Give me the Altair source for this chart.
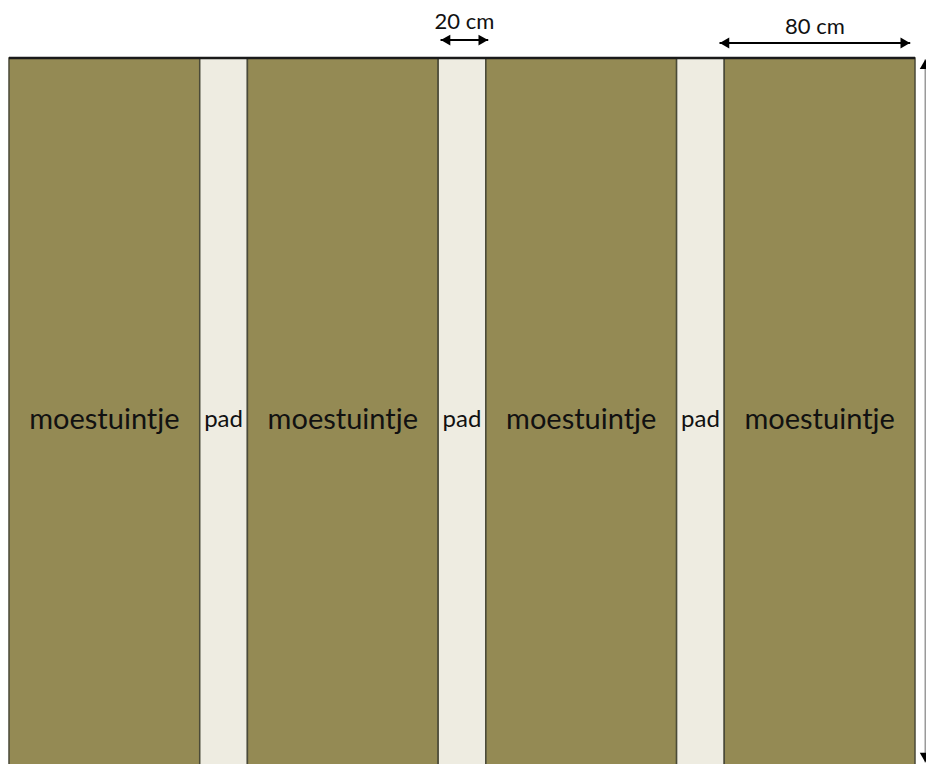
import altair as alt
import pandas as pd

# ---- data (cm) ----
segment_labels = ["moestuintje", "pad", "moestuintje", "pad", "moestuintje", "pad", "moestuintje"]
segment_kind = ["bed", "path", "bed", "path", "bed", "path", "bed"]
segment_widths = [80, 20, 80, 20, 80, 20, 80]
bed_length = 300

dim_labels = ["20 cm", "80 cm"]
dim_start = [181, 298]
dim_end = [201, 378]
dim_level = [-7.5, -6.3]
dim_text_level = [-12.0, -10.0]

# scales (cm -> pixels)
W, H = 918, 756
k = 906 / 380.0
x_dom = [-1 / k, (W - 1) / k]
y_dom = [-50 / k, (H - 50) / k]

starts = []
acc = 0
for w in segment_widths:
    starts.append(acc)
    acc += w
total = acc

seg = pd.DataFrame({
    "label": segment_labels,
    "kind": segment_kind,
    "x0": starts,
    "x1": [s + w for s, w in zip(starts, segment_widths)],
    "y0": [0] * len(starts),
    "y1": [bed_length] * len(starts),
})
seg["xm"] = (seg["x0"] + seg["x1"]) / 2
seg["ym"] = 152.0
seg["size"] = [29 if k_ == "bed" else 24 for k_ in segment_kind]

xs = alt.Scale(domain=x_dom, nice=False, zero=False)
ys = alt.Scale(domain=y_dom, nice=False, zero=False, reverse=True)

base = alt.Chart(seg)

rects = base.mark_rect(stroke="#4a4a38", strokeWidth=1.5).encode(
    x=alt.X("x0:Q", scale=xs, axis=None),
    x2="x1:Q",
    y=alt.Y("y0:Q", scale=ys, axis=None),
    y2="y1:Q",
    color=alt.Color("kind:N", scale=alt.Scale(domain=["bed", "path"], range=["#948A54", "#EEECE1"]), legend=None),
)

texts = base.mark_text(font="Lato", color="#111111", baseline="middle", align="center").encode(
    x=alt.X("xm:Q", scale=xs, axis=None),
    y=alt.Y("ym:Q", scale=ys, axis=None),
    text="label:N",
    size=alt.Size("size:Q", scale=None, legend=None),
)

top = pd.DataFrame({"x0": [0], "x1": [total], "y": [0]})
top_line = alt.Chart(top).mark_rule(color="#1a1a1a", strokeWidth=2.5).encode(
    x=alt.X("x0:Q", scale=xs, axis=None), x2="x1:Q",
    y=alt.Y("y:Q", scale=ys, axis=None),
)

dims = pd.DataFrame({"label": dim_labels, "x0": dim_start, "x1": dim_end,
                     "y": dim_level, "ty": dim_text_level})
dims["xm"] = (dims["x0"] + dims["x1"]) / 2
dbase = alt.Chart(dims)
dim_lines = dbase.mark_rule(color="#000000", strokeWidth=2).encode(
    x=alt.X("x0:Q", scale=xs, axis=None), x2="x1:Q",
    y=alt.Y("y:Q", scale=ys, axis=None),
)
left_heads = dbase.mark_point(shape="triangle-left", filled=True, color="#000000", size=120, opacity=1, xOffset=5).encode(
    x=alt.X("x0:Q", scale=xs, axis=None), y=alt.Y("y:Q", scale=ys, axis=None),
)
right_heads = dbase.mark_point(shape="triangle-right", filled=True, color="#000000", size=120, opacity=1, xOffset=-5).encode(
    x=alt.X("x1:Q", scale=xs, axis=None), y=alt.Y("y:Q", scale=ys, axis=None),
)
dim_texts = dbase.mark_text(font="Lato", fontSize=22, color="#111111", baseline="alphabetic").encode(
    x=alt.X("xm:Q", scale=xs, axis=None), y=alt.Y("ty:Q", scale=ys, axis=None), text="label:N",
)

vert = pd.DataFrame({"x": [384.3], "y0": [0.5], "y1": [295.5]})
vbase = alt.Chart(vert)
v_line = vbase.mark_rule(color="#9a9a9a", strokeWidth=1.5).encode(
    x=alt.X("x:Q", scale=xs, axis=None), y=alt.Y("y0:Q", scale=ys, axis=None), y2="y1:Q",
)
v_top = vbase.mark_point(shape="triangle-up", filled=True, color="#000000", size=120, opacity=1, yOffset=5).encode(
    x=alt.X("x:Q", scale=xs, axis=None), y=alt.Y("y0:Q", scale=ys, axis=None),
)
v_bot = vbase.mark_point(shape="triangle-down", filled=True, color="#000000", size=120, opacity=1, yOffset=-5).encode(
    x=alt.X("x:Q", scale=xs, axis=None), y=alt.Y("y1:Q", scale=ys, axis=None),
)

chart = alt.layer(
    rects, top_line, texts, dim_lines, left_heads, right_heads, dim_texts, v_line, v_top, v_bot
).properties(
    width=W, height=H, padding=0, autosize=alt.AutoSizeParams(type="none"), background="#ffffff"
).configure_view(stroke=None)

chart.save("out.html", embed_options={"renderer": "svg", "actions": False})
